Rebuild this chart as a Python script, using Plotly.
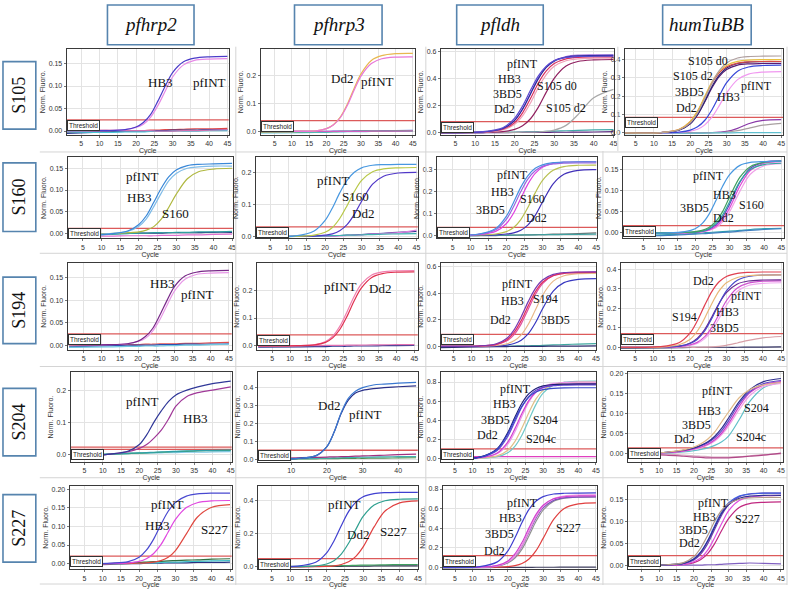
import plotly.graph_objects as go

W, H = 793, 589

# ---------------- data ----------------
CYCLES = [1, 12, 17, 20, 22, 24, 26, 28, 30, 33, 36, 40, 45]
ROW_LABELS = ["S105", "S160", "S194", "S204", "S227"]
COL_LABELS = ["pfhrp2", "pfhrp3", "pfldh", "humTuBB"]

S105_PFHRP2 = {
    "neg A": [-0.003, -0.001, 0.000, 0.001, 0.001, 0.002, 0.002, 0.003, 0.003, 0.004, 0.005, 0.005, 0.006],
    "neg B": [-0.005, -0.002, -0.001, 0.000, 0.000, 0.001, 0.001, 0.001, 0.002, 0.002, 0.002, 0.003, 0.003],
    "neg C": [-0.002, -0.003, -0.002, -0.002, -0.002, -0.001, -0.001, -0.001, 0.000, 0.000, 0.000, 0.001, 0.001],
    "neg D": [0.001, 0.002, 0.001, 0.001, 0.001, 0.001, 0.000, 0.000, 0.000, 0.001, 0.001, 0.002, 0.003],
    "pfINT": [0.001, 0.001, 0.003, 0.008, 0.015, 0.031, 0.057, 0.089, 0.120, 0.147, 0.157, 0.160, 0.161],
    "HB3": [0.001, 0.001, 0.003, 0.009, 0.019, 0.037, 0.067, 0.100, 0.130, 0.154, 0.162, 0.165, 0.166],
}
S105_PFHRP3 = {
    "neg A": [0.000, 0.001, 0.001, 0.001, 0.002, 0.002, 0.002, 0.003, 0.003, 0.003, 0.004, 0.004, 0.005],
    "neg B": [-0.004, -0.003, -0.002, -0.002, -0.001, -0.001, 0.000, 0.000, 0.000, 0.001, 0.001, 0.001, 0.002],
    "neg C": [-0.002, -0.001, 0.000, 0.000, 0.000, 0.001, 0.001, 0.001, 0.002, 0.002, 0.002, 0.003, 0.003],
    "neg D": [0.002, 0.002, 0.001, 0.001, 0.001, 0.001, 0.001, 0.001, 0.001, 0.002, 0.002, 0.002, 0.003],
    "Dd2": [0.000, 0.001, 0.003, 0.011, 0.025, 0.052, 0.097, 0.155, 0.207, 0.255, 0.272, 0.279, 0.280],
    "pfINT": [0.000, 0.001, 0.003, 0.011, 0.024, 0.050, 0.093, 0.148, 0.199, 0.244, 0.261, 0.267, 0.268],
}
S105_PFLDH = {
    "neg A": [0.000, 0.000, 0.001, 0.002, 0.003, 0.004, 0.005, 0.007, 0.009, 0.012, 0.015, 0.018, 0.020],
    "neg B": [-0.005, -0.003, -0.002, -0.001, 0.000, 0.000, 0.000, 0.000, 0.001, 0.001, 0.002, 0.003, 0.005],
    "S105 d2": [0.000, 0.000, 0.000, 0.000, 0.001, 0.001, 0.003, 0.007, 0.017, 0.052, 0.131, 0.257, 0.319],
    "S105 d0": [0.000, 0.001, 0.006, 0.022, 0.049, 0.101, 0.187, 0.298, 0.400, 0.491, 0.525, 0.537, 0.540],
    "Dd2": [0.000, 0.002, 0.019, 0.060, 0.122, 0.218, 0.332, 0.428, 0.490, 0.531, 0.545, 0.549, 0.550],
    "3BD5": [0.000, 0.003, 0.023, 0.073, 0.145, 0.251, 0.366, 0.455, 0.510, 0.545, 0.556, 0.559, 0.560],
    "HB3": [0.000, 0.003, 0.029, 0.090, 0.173, 0.288, 0.402, 0.485, 0.532, 0.562, 0.572, 0.574, 0.575],
    "pfINT": [0.000, 0.003, 0.029, 0.089, 0.172, 0.285, 0.398, 0.481, 0.528, 0.557, 0.567, 0.569, 0.570],
    "pfINT rep": [0.000, 0.005, 0.034, 0.106, 0.196, 0.312, 0.419, 0.491, 0.531, 0.555, 0.562, 0.564, 0.565],
}
S105_HUMTUBB = {
    "low 1": [0.000, 0.000, 0.000, 0.000, 0.000, 0.001, 0.002, 0.004, 0.008, 0.025, 0.050, 0.068, 0.072],
    "low 2": [0.000, 0.000, 0.000, 0.000, 0.000, 0.000, 0.001, 0.002, 0.004, 0.012, 0.025, 0.042, 0.052],
    "low 3": [-0.004, -0.003, -0.002, -0.002, -0.001, -0.001, 0.000, 0.000, 0.000, 0.001, 0.001, 0.002, 0.002],
    "pfINT": [0.000, 0.000, 0.003, 0.009, 0.020, 0.044, 0.087, 0.150, 0.219, 0.291, 0.321, 0.332, 0.335],
    "HB3": [0.000, 0.001, 0.004, 0.015, 0.033, 0.069, 0.128, 0.204, 0.274, 0.337, 0.360, 0.368, 0.370],
    "Dd2": [0.000, 0.002, 0.016, 0.050, 0.098, 0.170, 0.248, 0.309, 0.346, 0.370, 0.377, 0.379, 0.380],
    "Dd2 rep": [0.000, 0.002, 0.016, 0.051, 0.101, 0.175, 0.255, 0.317, 0.355, 0.379, 0.387, 0.389, 0.390],
    "3BD5": [0.000, 0.002, 0.020, 0.061, 0.117, 0.195, 0.273, 0.329, 0.361, 0.381, 0.388, 0.390, 0.390],
    "S105 d2": [0.000, 0.002, 0.020, 0.063, 0.120, 0.200, 0.280, 0.337, 0.370, 0.391, 0.398, 0.400, 0.400],
    "S105 d0": [0.000, 0.002, 0.017, 0.055, 0.109, 0.188, 0.274, 0.341, 0.382, 0.409, 0.417, 0.419, 0.420],
}

S160_PFHRP2 = {
    "neg pink": [-0.006, -0.006, -0.005, -0.005, -0.005, -0.005, -0.004, -0.004, -0.004, -0.003, -0.003, -0.002, -0.001],
    "neg navy": [-0.002, 0.000, 0.001, 0.001, 0.001, 0.001, 0.001, 0.002, 0.002, 0.002, 0.002, 0.003, 0.003],
    "neg teal": [-0.004, -0.002, 0.000, 0.001, 0.001, 0.002, 0.002, 0.002, 0.003, 0.003, 0.004, 0.004, 0.005],
    "S160": [-0.003, 0.000, 0.002, 0.004, 0.008, 0.016, 0.033, 0.060, 0.090, 0.126, 0.142, 0.148, 0.150],
    "HB3": [-0.004, 0.000, 0.005, 0.017, 0.034, 0.062, 0.093, 0.121, 0.138, 0.150, 0.153, 0.155, 0.155],
    "pfINT": [-0.005, -0.001, 0.006, 0.021, 0.041, 0.072, 0.104, 0.130, 0.146, 0.156, 0.159, 0.160, 0.161],
}
S160_PFHRP3 = {
    "neg navy": [0.000, 0.000, 0.001, 0.002, 0.002, 0.003, 0.004, 0.005, 0.006, 0.008, 0.010, 0.013, 0.016],
    "neg pink": [0.000, 0.000, 0.001, 0.001, 0.002, 0.002, 0.003, 0.004, 0.005, 0.007, 0.009, 0.012, 0.020],
    "neg teal": [0.000, 0.001, 0.001, 0.002, 0.003, 0.003, 0.004, 0.004, 0.005, 0.006, 0.007, 0.008, 0.009],
    "Dd2": [0.000, 0.000, 0.001, 0.004, 0.008, 0.018, 0.037, 0.069, 0.110, 0.163, 0.188, 0.198, 0.200],
    "S160": [0.000, 0.000, 0.004, 0.013, 0.028, 0.056, 0.096, 0.140, 0.175, 0.202, 0.211, 0.214, 0.215],
    "pfINT": [0.000, 0.002, 0.017, 0.050, 0.089, 0.136, 0.175, 0.200, 0.214, 0.222, 0.224, 0.225, 0.225],
}
S160_PFLDH = {
    "neg grey": [-0.005, -0.003, -0.002, -0.001, 0.000, 0.000, 0.001, 0.002, 0.002, 0.004, 0.005, 0.007, 0.010],
    "neg teal": [-0.003, -0.002, -0.001, 0.000, 0.000, 0.001, 0.001, 0.001, 0.002, 0.002, 0.003, 0.003, 0.004],
    "Dd2": [0.000, 0.000, 0.001, 0.005, 0.010, 0.022, 0.047, 0.090, 0.150, 0.234, 0.278, 0.296, 0.299],
    "S160": [0.000, 0.001, 0.005, 0.016, 0.035, 0.071, 0.127, 0.193, 0.249, 0.296, 0.313, 0.319, 0.320],
    "HB3": [0.000, 0.002, 0.017, 0.053, 0.101, 0.168, 0.234, 0.282, 0.310, 0.328, 0.333, 0.335, 0.335],
    "3BD5": [0.000, 0.003, 0.024, 0.073, 0.131, 0.199, 0.257, 0.294, 0.314, 0.325, 0.329, 0.330, 0.330],
    "pfINT": [0.000, 0.004, 0.030, 0.087, 0.150, 0.219, 0.272, 0.305, 0.321, 0.331, 0.334, 0.335, 0.335],
}
S160_HUMTUBB = {
    "neg teal": [-0.006, -0.004, -0.002, -0.001, 0.000, 0.001, 0.002, 0.003, 0.004, 0.006, 0.008, 0.010, 0.011],
    "neg blue": [-0.008, -0.006, -0.004, -0.003, -0.002, -0.001, 0.000, 0.001, 0.002, 0.004, 0.006, 0.008, 0.010],
    "pink": [0.000, 0.000, 0.000, 0.001, 0.002, 0.006, 0.012, 0.026, 0.050, 0.099, 0.139, 0.159, 0.164],
    "S160": [0.000, 0.000, 0.000, 0.001, 0.003, 0.007, 0.015, 0.032, 0.059, 0.111, 0.148, 0.165, 0.169],
    "Dd2": [0.000, 0.000, 0.001, 0.002, 0.004, 0.009, 0.019, 0.038, 0.068, 0.120, 0.153, 0.168, 0.171],
    "3BD5": [0.000, 0.000, 0.001, 0.002, 0.004, 0.010, 0.022, 0.043, 0.074, 0.122, 0.150, 0.162, 0.165],
    "HB3": [0.000, 0.000, 0.001, 0.003, 0.006, 0.013, 0.027, 0.051, 0.085, 0.132, 0.157, 0.167, 0.170],
    "pfINT": [0.000, 0.000, 0.003, 0.010, 0.022, 0.044, 0.076, 0.111, 0.138, 0.160, 0.167, 0.169, 0.170],
}

S194_PFHRP2 = {
    "neg red": [-0.002, 0.000, 0.001, 0.001, 0.002, 0.002, 0.003, 0.003, 0.003, 0.004, 0.004, 0.005, 0.006],
    "neg blue": [-0.004, -0.001, 0.000, 0.000, 0.000, 0.000, 0.001, 0.001, 0.001, 0.002, 0.002, 0.002, 0.003],
    "neg cyan": [-0.005, -0.004, -0.003, -0.003, -0.002, -0.002, -0.002, -0.001, -0.001, 0.000, 0.000, 0.001, 0.002],
    "pfINT": [0.001, 0.001, 0.003, 0.008, 0.015, 0.031, 0.057, 0.089, 0.120, 0.147, 0.157, 0.160, 0.161],
    "HB3": [0.001, 0.001, 0.003, 0.009, 0.019, 0.037, 0.067, 0.100, 0.130, 0.154, 0.162, 0.165, 0.166],
}
S194_PFHRP3 = {
    "neg navy": [-0.004, -0.003, -0.002, -0.002, -0.001, -0.001, -0.001, 0.000, 0.000, 0.000, 0.001, 0.001, 0.002],
    "neg pink": [0.000, 0.001, 0.001, 0.002, 0.002, 0.002, 0.003, 0.003, 0.003, 0.004, 0.004, 0.005, 0.005],
    "pfINT": [0.000, 0.001, 0.005, 0.016, 0.035, 0.070, 0.121, 0.176, 0.220, 0.254, 0.265, 0.269, 0.270],
    "Dd2": [0.000, 0.001, 0.004, 0.013, 0.029, 0.059, 0.105, 0.160, 0.206, 0.245, 0.259, 0.264, 0.265],
}
S194_PFLDH = {
    "neg teal": [0.000, 0.000, 0.001, 0.001, 0.002, 0.003, 0.004, 0.005, 0.007, 0.010, 0.013, 0.017, 0.020],
    "neg navy": [-0.010, -0.005, -0.003, -0.002, -0.001, 0.000, 0.000, 0.000, 0.000, 0.001, 0.001, 0.002, 0.003],
    "3BD5": [0.000, 0.001, 0.003, 0.009, 0.021, 0.046, 0.095, 0.177, 0.282, 0.415, 0.479, 0.504, 0.509],
    "S194": [0.000, 0.001, 0.006, 0.019, 0.041, 0.086, 0.166, 0.275, 0.384, 0.490, 0.531, 0.547, 0.549],
    "Dd2": [0.000, 0.002, 0.012, 0.041, 0.088, 0.169, 0.280, 0.391, 0.472, 0.532, 0.552, 0.558, 0.560],
    "HB3": [0.000, 0.002, 0.015, 0.050, 0.104, 0.193, 0.306, 0.411, 0.482, 0.532, 0.548, 0.554, 0.555],
    "pfINT": [0.000, 0.002, 0.019, 0.061, 0.124, 0.222, 0.338, 0.436, 0.499, 0.541, 0.554, 0.559, 0.560],
}
S194_HUMTUBB = {
    "neg navy": [-0.005, -0.003, -0.002, -0.001, 0.000, 0.000, 0.000, 0.000, 0.000, 0.000, 0.001, 0.001, 0.002],
    "low": [0.000, 0.000, 0.000, 0.000, 0.000, 0.001, 0.002, 0.005, 0.010, 0.022, 0.035, 0.048, 0.055],
    "pfINT": [0.000, 0.000, 0.003, 0.009, 0.020, 0.043, 0.085, 0.148, 0.215, 0.287, 0.316, 0.327, 0.330],
    "magenta": [0.000, 0.000, 0.003, 0.012, 0.025, 0.053, 0.102, 0.170, 0.238, 0.303, 0.328, 0.338, 0.340],
    "HB3": [0.000, 0.001, 0.006, 0.021, 0.045, 0.089, 0.155, 0.225, 0.280, 0.324, 0.339, 0.344, 0.345],
    "3BD5": [0.000, 0.001, 0.006, 0.019, 0.040, 0.082, 0.147, 0.223, 0.288, 0.343, 0.362, 0.369, 0.370],
    "S194": [0.000, 0.001, 0.013, 0.040, 0.082, 0.147, 0.223, 0.288, 0.330, 0.357, 0.366, 0.369, 0.370],
    "Dd2": [0.000, 0.003, 0.023, 0.072, 0.134, 0.213, 0.285, 0.335, 0.362, 0.378, 0.383, 0.385, 0.385],
}

S204_PFHRP2 = {
    "neg lightblue": [-0.003, 0.000, 0.002, 0.003, 0.003, 0.004, 0.004, 0.005, 0.005, 0.006, 0.006, 0.007, 0.008],
    "neg green": [-0.004, 0.000, 0.002, 0.003, 0.004, 0.005, 0.006, 0.007, 0.008, 0.009, 0.010, 0.011, 0.012],
    "neg teal": [-0.005, 0.000, 0.003, 0.004, 0.005, 0.006, 0.007, 0.008, 0.009, 0.010, 0.011, 0.012, 0.013],
    "HB3": [-0.012, 0.000, 0.008, 0.018, 0.030, 0.050, 0.075, 0.110, 0.150, 0.180, 0.192, 0.200, 0.210],
    "pfINT": [-0.012, 0.000, 0.010, 0.030, 0.060, 0.100, 0.135, 0.165, 0.185, 0.200, 0.210, 0.220, 0.228],
}
S204_PFHRP3 = {
    "neg green": [-0.002, 0.001, 0.002, 0.003, 0.003, 0.004, 0.004, 0.005, 0.005, 0.006, 0.006, 0.007, 0.008],
    "neg teal": [0.000, 0.003, 0.005, 0.006, 0.007, 0.008, 0.009, 0.010, 0.011, 0.012, 0.013, 0.014, 0.015],
    "neg magenta": [0.005, 0.008, 0.010, 0.012, 0.013, 0.014, 0.015, 0.017, 0.018, 0.020, 0.022, 0.025, 0.028],
    "pfINT": [0.000, 0.004, 0.020, 0.070, 0.150, 0.255, 0.330, 0.370, 0.385, 0.395, 0.400, 0.405, 0.410],
    "Dd2": [0.000, 0.004, 0.020, 0.070, 0.150, 0.260, 0.340, 0.380, 0.400, 0.415, 0.420, 0.425, 0.430],
}
S204_PFLDH = {
    "neg magenta": [0.020, 0.020, 0.020, 0.020, 0.020, 0.020, 0.020, 0.020, 0.020, 0.020, 0.020, 0.020, 0.020],
    "S204c": [0.000, 0.002, 0.018, 0.060, 0.127, 0.244, 0.405, 0.566, 0.683, 0.770, 0.798, 0.808, 0.810],
    "S204": [0.000, 0.003, 0.027, 0.087, 0.177, 0.318, 0.482, 0.623, 0.713, 0.773, 0.792, 0.798, 0.800],
    "pink": [0.000, 0.006, 0.049, 0.150, 0.278, 0.442, 0.593, 0.695, 0.751, 0.786, 0.796, 0.799, 0.800],
    "Dd2": [0.000, 0.008, 0.058, 0.172, 0.310, 0.470, 0.608, 0.695, 0.741, 0.768, 0.777, 0.779, 0.780],
    "3BD5": [0.000, 0.012, 0.084, 0.232, 0.385, 0.538, 0.649, 0.713, 0.744, 0.762, 0.768, 0.770, 0.770],
    "HB3": [0.000, 0.014, 0.102, 0.271, 0.431, 0.578, 0.678, 0.732, 0.759, 0.774, 0.778, 0.780, 0.780],
    "pfINT": [0.000, 0.013, 0.097, 0.257, 0.408, 0.548, 0.643, 0.695, 0.720, 0.734, 0.739, 0.740, 0.740],
}
S204_HUMTUBB = {
    "low pink": [0.002, 0.000, -0.003, -0.005, -0.006, -0.007, -0.008, -0.008, -0.008, -0.007, -0.005, -0.002, 0.000],
    "low magenta": [0.000, -0.003, -0.006, -0.008, -0.009, -0.010, -0.010, -0.010, -0.010, -0.008, -0.006, -0.003, 0.002],
    "S204c": [0.000, 0.002, 0.005, 0.008, 0.011, 0.015, 0.021, 0.030, 0.045, 0.085, 0.130, 0.165, 0.178],
    "S204": [0.000, 0.003, 0.007, 0.011, 0.015, 0.022, 0.032, 0.048, 0.070, 0.110, 0.145, 0.168, 0.176],
    "Dd2": [0.000, 0.003, 0.007, 0.012, 0.017, 0.024, 0.035, 0.052, 0.076, 0.118, 0.152, 0.172, 0.180],
    "3BD5": [0.000, 0.004, 0.009, 0.014, 0.020, 0.028, 0.040, 0.058, 0.083, 0.125, 0.155, 0.175, 0.183],
    "HB3": [0.000, 0.004, 0.009, 0.015, 0.021, 0.030, 0.044, 0.064, 0.090, 0.130, 0.160, 0.180, 0.188],
    "pfINT": [0.000, 0.004, 0.010, 0.017, 0.025, 0.037, 0.055, 0.080, 0.105, 0.140, 0.160, 0.172, 0.178],
}

S227_PFHRP2 = {
    "neg navy": [-0.005, -0.002, 0.000, 0.000, 0.001, 0.001, 0.001, 0.002, 0.002, 0.002, 0.003, 0.003, 0.004],
    "neg teal": [-0.004, -0.001, 0.000, 0.001, 0.002, 0.002, 0.003, 0.004, 0.004, 0.005, 0.006, 0.007, 0.008],
    "neg green": [-0.003, 0.000, 0.002, 0.003, 0.004, 0.005, 0.006, 0.007, 0.008, 0.009, 0.010, 0.012, 0.013],
    "S227": [-0.003, 0.000, 0.000, 0.001, 0.002, 0.004, 0.008, 0.017, 0.035, 0.080, 0.125, 0.152, 0.159],
    "HB3": [-0.003, 0.000, 0.002, 0.006, 0.013, 0.027, 0.051, 0.085, 0.119, 0.151, 0.164, 0.169, 0.170],
    "pfINT": [-0.003, 0.001, 0.005, 0.017, 0.036, 0.066, 0.105, 0.141, 0.165, 0.182, 0.188, 0.190, 0.190],
}
S227_PFHRP3 = {
    "neg dark": [0.000, 0.001, 0.002, 0.002, 0.003, 0.003, 0.004, 0.004, 0.004, 0.005, 0.005, 0.006, 0.006],
    "neg green": [0.000, 0.002, 0.004, 0.005, 0.006, 0.007, 0.008, 0.009, 0.010, 0.011, 0.012, 0.013, 0.014],
    "S227": [0.000, 0.000, 0.001, 0.002, 0.006, 0.014, 0.030, 0.063, 0.120, 0.241, 0.337, 0.386, 0.398],
    "Dd2": [0.000, 0.001, 0.005, 0.017, 0.037, 0.077, 0.142, 0.226, 0.304, 0.373, 0.399, 0.408, 0.410],
    "pfINT": [0.000, 0.004, 0.027, 0.084, 0.156, 0.248, 0.333, 0.391, 0.423, 0.442, 0.448, 0.450, 0.450],
}
S227_PFLDH = {
    "neg dark": [-0.005, -0.002, -0.001, 0.000, 0.000, 0.000, 0.000, 0.001, 0.001, 0.001, 0.002, 0.002, 0.003],
    "S227": [0.000, 0.000, 0.003, 0.008, 0.018, 0.040, 0.086, 0.171, 0.296, 0.489, 0.601, 0.648, 0.659],
    "Dd2": [0.000, 0.001, 0.013, 0.044, 0.094, 0.186, 0.323, 0.470, 0.585, 0.676, 0.707, 0.718, 0.720],
    "purple": [0.000, 0.002, 0.016, 0.053, 0.113, 0.217, 0.360, 0.503, 0.607, 0.684, 0.709, 0.718, 0.720],
    "3BD5": [0.000, 0.002, 0.016, 0.055, 0.116, 0.223, 0.370, 0.517, 0.624, 0.703, 0.729, 0.738, 0.740],
    "HB3": [0.000, 0.003, 0.020, 0.066, 0.137, 0.253, 0.403, 0.541, 0.634, 0.700, 0.721, 0.729, 0.730],
    "pfINT": [0.000, 0.008, 0.056, 0.168, 0.302, 0.458, 0.592, 0.677, 0.722, 0.749, 0.757, 0.759, 0.760],
}
S227_HUMTUBB = {
    "low purple": [0.000, 0.000, 0.000, 0.000, 0.000, 0.001, 0.001, 0.002, 0.003, 0.004, 0.005, 0.004, 0.003],
    "S227": [0.000, 0.000, 0.002, 0.006, 0.013, 0.027, 0.050, 0.080, 0.107, 0.132, 0.141, 0.144, 0.145],
    "magenta": [0.000, 0.000, 0.002, 0.008, 0.017, 0.035, 0.064, 0.096, 0.125, 0.148, 0.156, 0.159, 0.160],
    "Dd2": [0.000, 0.000, 0.004, 0.012, 0.026, 0.050, 0.083, 0.115, 0.139, 0.157, 0.163, 0.165, 0.165],
    "3BD5": [0.000, 0.001, 0.004, 0.015, 0.031, 0.057, 0.091, 0.122, 0.143, 0.158, 0.163, 0.165, 0.165],
    "HB3": [0.000, 0.001, 0.004, 0.014, 0.030, 0.056, 0.088, 0.119, 0.139, 0.153, 0.158, 0.160, 0.160],
    "pfINT": [0.000, 0.001, 0.006, 0.020, 0.040, 0.069, 0.101, 0.126, 0.141, 0.151, 0.154, 0.155, 0.155],
}

PANELS = [
    [S105_PFHRP2, S105_PFHRP3, S105_PFLDH, S105_HUMTUBB],
    [S160_PFHRP2, S160_PFHRP3, S160_PFLDH, S160_HUMTUBB],
    [S194_PFHRP2, S194_PFHRP3, S194_PFLDH, S194_HUMTUBB],
    [S204_PFHRP2, S204_PFHRP3, S204_PFLDH, S204_HUMTUBB],
    [S227_PFHRP2, S227_PFHRP3, S227_PFLDH, S227_HUMTUBB],
]

THRESHOLDS = [
    [[0.025], [0.04], [0.08], [0.085]],
    [[0.012], [0.03], [0.035], [0.017]],
    [[0.025], [0.04], [0.09], [0.07]],
    [[0.015, 0.022], [0.05], [0.10], [0.015]],
    [[0.02], [0.05], [0.12], [0.022]],
]

Y_TICKS = [
    [[0, 0.05, 0.10, 0.15], [0, 0.1, 0.2], [0, 0.2, 0.4, 0.6], [0, 0.1, 0.2, 0.3, 0.4]],
    [[0, 0.05, 0.10, 0.15], [0, 0.1, 0.2], [0, 0.1, 0.2, 0.3], [0, 0.05, 0.10, 0.15]],
    [[0, 0.05, 0.10, 0.15], [0, 0.1, 0.2], [0, 0.2, 0.4, 0.6], [0, 0.1, 0.2, 0.3, 0.4]],
    [[0, 0.1, 0.2], [0, 0.1, 0.2, 0.3, 0.4], [0, 0.2, 0.4, 0.6, 0.8], [0, 0.05, 0.10, 0.15, 0.20]],
    [[0, 0.05, 0.10, 0.15, 0.20], [0, 0.2, 0.4], [0, 0.2, 0.4, 0.6, 0.8], [0, 0.05, 0.10, 0.15]],
]
X_TICKS = [5, 10, 15, 20, 25, 30, 35, 40, 45]
X_TICKS_WIDE = [10, 20, 30, 40]

# ---------------- styles / layout ----------------
COLORS = [
    [["#e04848", "#283890", "#48c8d8", "#d070b0", "#e68ae6", "#4a3cc8"],
     ["#4a6ad0", "#50c0d8", "#60b060", "#d060c0", "#e8b850", "#e878d8"],
     ["#40a8a8", "#5a2a80", "#a8a8a8", "#902060", "#f0a0b8", "#d83060", "#a070e0", "#2a2a9a", "#5a4ad0"],
     ["#8a3aa8", "#a8a0a0", "#60c0d0", "#f098f0", "#3848d8", "#5a1a70", "#282878", "#d84848", "#e8c040", "#b0a0a0"]],
    [["#e070d0", "#283080", "#30a0a0", "#b0b840", "#80bce8", "#3a88d8"],
     ["#303090", "#e080e0", "#40b0b0", "#5038c8", "#b8c848", "#4898e0"],
     ["#707070", "#40a0a0", "#4030b8", "#b8c050", "#e040e0", "#9868e0", "#4890e0"],
     ["#30a0b0", "#4080c0", "#f0a0e8", "#e048d8", "#6040c8", "#30a8a0", "#40a060", "#4898e0"]],
    [["#e05050", "#3050b0", "#70c8e0", "#e898e8", "#782888"],
     ["#283890", "#e070b0", "#f080b0", "#e03050"],
     ["#40a8a0", "#303070", "#3838c0", "#e8b888", "#e050a0", "#e03060", "#7838b0"],
     ["#303060", "#d8a0a8", "#f0a8f0", "#d050d0", "#6a2890", "#4848c8", "#e8b878", "#e04050"]],
    [["#80c8e8", "#40a070", "#30a0a8", "#a03898", "#303898"],
     ["#509050", "#40b0b0", "#a03080", "#2a3088", "#3a78d0"],
     ["#e040c0", "#70c8c8", "#e0c088", "#f098e8", "#d040d0", "#6048d0", "#202078", "#3848c8"],
     ["#d8a8c0", "#b04888", "#60c0c8", "#f0a0e8", "#d040c8", "#6048c8", "#303090", "#e0b888"]],
    [["#283080", "#40c0c8", "#307040", "#e04840", "#e048e0", "#4848d0"],
     ["#303050", "#40a060", "#e04040", "#30a090", "#4040d0"],
     ["#404060", "#e04040", "#909090", "#8050c0", "#f090e0", "#d040d0", "#4040d0"],
     ["#8060c0", "#c02880", "#e050e0", "#7040b0", "#4060e0", "#303090", "#b09888"]],
]

# plot-area boxes in pixels: (left, right, top, bottom)
ROW_TB = [(47, 134), (156, 238), (263, 350), (373, 463), (487, 571)]
COL_LR = [
    [(67, 230), (262, 417), (443, 617), (628, 787)],
    [(68, 234), (257, 420), (439, 600), (626, 788)],
    [(68, 233), (258, 420), (443, 599), (624, 787)],
    [(71, 233), (259, 420), (443, 599), (631, 787)],
    [(70, 233), (259, 420), (445, 600), (631, 787)],
]
X_RANGE = [
    [(1.0, 45.4), (0.97, 45.6), (1.3, 45.1), (2.0, 45.5)],
    [(0.9, 45.2), (1.0, 45.4), (0.6, 45.2), (-1.0, 45.8)],
    [(0.6, 45.8), (0.6, 46.0), (1.4, 45.0), (1.1, 45.5)],
    [(1.2, 45.3), (0.6, 45.5), (1.0, 45.0), (1.0, 45.6)],
    [(0.9, 45.5), (1.1, 45.0), (1.5, 45.3), (1.0, 45.6)],
]
Y_RANGE = [
    [(-0.009, 0.183), (-0.012, 0.297), (-0.02, 0.62), (-0.012, 0.46)],
    [(-0.011, 0.176), (-0.006, 0.248), (-0.015, 0.357), (-0.013, 0.18)],
    [(-0.01, 0.182), (-0.013, 0.296), (-0.025, 0.625), (-0.012, 0.43)],
    [(-0.024, 0.255), (-0.015, 0.485), (-0.035, 0.90), (-0.02, 0.203)],
    [(-0.015, 0.21), (-0.014, 0.49), (-0.018, 0.834), (-0.009, 0.182)],
]
Y_DEC = [[2, 1, 1, 1], [2, 1, 1, 2], [2, 1, 1, 1], [1, 1, 1, 2], [2, 1, 1, 2]]

LABEL_POS = {
    (0, 0): [("HB3", 26.8, 0.107), ("pfINT", 40, 0.107)],
    (0, 1): [("Dd2", 24.4, 0.19), ("pfINT", 34.9, 0.179)],
    (0, 2): [("pfINT", 22, 0.51), ("HB3", 18.6, 0.397), ("3BD5", 18.2, 0.284), ("Dd2", 17.3, 0.17),
             ("S105 d0", 30.8, 0.34), ("S105 d2", 32.9, 0.18)],
    (0, 3): [("S105 d0", 24.9, 0.391), ("S105 d2", 20.8, 0.31), ("3BD5", 19.9, 0.226), ("Dd2", 19, 0.137),
             ("HB3", 30.4, 0.194), ("pfINT", 38.2, 0.256)],
    (1, 0): [("pfINT", 21, 0.13), ("HB3", 20.1, 0.083), ("S160", 29.9, 0.045)],
    (1, 1): [("pfINT", 22.2, 0.176), ("S160", 28.2, 0.124), ("Dd2", 30.4, 0.073)],
    (1, 2): [("pfINT", 21.6, 0.274), ("HB3", 18.9, 0.198), ("S160", 27.2, 0.167), ("3BD5", 15.6, 0.114),
             ("Dd2", 28.5, 0.076)],
    (1, 3): [("pfINT", 23.8, 0.135), ("HB3", 28.6, 0.089), ("3BD5", 19.9, 0.058), ("Dd2", 28.1, 0.036),
             ("S160", 36.3, 0.065)],
    (2, 0): [("HB3", 26.7, 0.137), ("pfINT", 36.3, 0.113)],
    (2, 1): [("pfINT", 24.2, 0.212), ("Dd2", 35.3, 0.206)],
    (2, 2): [("pfINT", 22.9, 0.468), ("HB3", 21.5, 0.338), ("S194", 30.8, 0.358), ("Dd2", 18.2, 0.2),
             ("3BD5", 33.6, 0.2)],
    (2, 3): [("Dd2", 23.6, 0.339), ("pfINT", 35.4, 0.263), ("HB3", 30.4, 0.18), ("S194", 18.6, 0.153),
             ("3BD5", 29.5, 0.099)],
    (3, 0): [("pfINT", 20.9, 0.165), ("HB3", 35.4, 0.11)],
    (3, 1): [("Dd2", 20.5, 0.30), ("pfINT", 30.7, 0.25)],
    (3, 2): [("pfINT", 22.2, 0.73), ("HB3", 19, 0.567), ("3BD5", 16.6, 0.4), ("Dd2", 14.2, 0.25),
             ("S204", 30.7, 0.4), ("S204c", 29.3, 0.2)],
    (3, 3): [("pfINT", 26.9, 0.158), ("HB3", 24.5, 0.108), ("S204", 37.9, 0.114), ("3BD5", 20.7, 0.0725),
             ("S204c", 36.4, 0.042), ("Dd2", 17.4, 0.0375)],
    (4, 0): [("pfINT", 27.8, 0.159), ("HB3", 25.1, 0.102), ("S227", 40.6, 0.091)],
    (4, 1): [("pfINT", 25, 0.379), ("Dd2", 28.6, 0.194), ("S227", 38.2, 0.215)],
    (4, 2): [("pfINT", 24.1, 0.654), ("HB3", 20.8, 0.5), ("3BD5", 17.5, 0.341), ("Dd2", 16.1, 0.17),
             ("S227", 37.3, 0.4)],
    (4, 3): [("pfINT", 25.5, 0.142), ("HB3", 23.1, 0.110), ("S227", 35.5, 0.105), ("3BD5", 19.8, 0.08),
             ("Dd2", 18.8, 0.05)],
}

ROW_BOX = [(60, 128), (162, 231), (277, 344), (389, 457), (496, 564)]
COL_BOX = [(108, 195), (296, 384), (459, 546), (666, 755)]

SERIF = "Liberation Serif, Times New Roman, serif"
SANS = "Liberation Sans, Arial, sans-serif"


def px_x(v):
    return v / W


def px_y(v):
    return 1 - v / H


fig = go.Figure()
layout = dict(width=W, height=H, margin=dict(l=0, r=0, t=0, b=0),
              paper_bgcolor="white", plot_bgcolor="white", showlegend=False)
annotations = []
shapes = []

idx = 0
for r in range(5):
    for c in range(4):
        idx += 1
        xa = "x" if idx == 1 else f"x{idx}"
        ya = "y" if idx == 1 else f"y{idx}"
        xkey = "xaxis" if idx == 1 else f"xaxis{idx}"
        ykey = "yaxis" if idx == 1 else f"yaxis{idx}"
        l, rr = COL_LR[r][c]
        t, b = ROW_TB[r]
        xt = X_TICKS_WIDE if (r == 3 and c == 1) else X_TICKS
        dec = Y_DEC[r][c]
        yt = Y_TICKS[r][c]
        axis_common = dict(showgrid=True, gridcolor="#e3e3e3", gridwidth=1, zeroline=False,
                           showline=True, linecolor="#3a3a3a", linewidth=1, mirror=True,
                           ticks="outside", ticklen=2, tickcolor="#777",
                           tickfont=dict(family=SANS, size=7, color="#333"))
        layout[xkey] = dict(domain=[px_x(l), px_x(rr)], range=list(X_RANGE[r][c]), anchor=ya,
                            tickvals=xt, ticktext=[str(v) for v in xt],
                            title=dict(text="Cycle", font=dict(family=SANS, size=7, color="#333"), standoff=1),
                            **axis_common)
        layout[ykey] = dict(domain=[px_y(b), px_y(t)], range=list(Y_RANGE[r][c]), anchor=xa,
                            tickvals=yt, ticktext=[f"{v:.{dec}f}" for v in yt],
                            title=dict(text="Norm. Fluoro.", font=dict(family=SANS, size=7, color="#333"), standoff=2),
                            **axis_common)
        x0, x1 = X_RANGE[r][c]
        for tv in THRESHOLDS[r][c]:
            fig.add_trace(go.Scatter(x=[x0, x1], y=[tv, tv], mode="lines", xaxis=xa, yaxis=ya,
                                     line=dict(color="#dc5a5a", width=1.3), hoverinfo="skip"))
        data = PANELS[r][c]
        cols = COLORS[r][c]
        for k, (name, vals) in enumerate(data.items()):
            fig.add_trace(go.Scatter(x=CYCLES, y=vals, mode="lines", name=name, xaxis=xa, yaxis=ya,
                                     line=dict(color=cols[k], width=1.2, shape="spline", smoothing=0.9)))
        annotations.append(dict(xref=f"{xa} domain", yref=ya, x=0.0, y=min(THRESHOLDS[r][c]),
                                xanchor="left", yanchor="top", showarrow=False, text="Threshold",
                                font=dict(family=SANS, size=6.5, color="#222"),
                                bgcolor="white", bordercolor="#333", borderwidth=1, borderpad=1))
        fsize = 13 if c < 2 else 12
        for txt, lx, ly in LABEL_POS[(r, c)]:
            annotations.append(dict(xref=xa, yref=ya, x=lx, y=ly, text=txt, showarrow=False,
                                    xanchor="center", yanchor="middle",
                                    font=dict(family=SERIF, size=fsize, color="#111")))

for xv, y0, y1 in [(237, 45, 587), (428, 45, 587), (621, 45, 150), (606, 150, 587), (791, 45, 587)]:
    shapes.append(dict(type="line", xref="paper", yref="paper", x0=px_x(xv), x1=px_x(xv),
                       y0=px_y(y0), y1=px_y(y1), line=dict(color="#d4d4d4", width=1)))
for yv in [151, 253, 367, 479, 586]:
    shapes.append(dict(type="line", xref="paper", yref="paper", x0=px_x(40), x1=px_x(791),
                       y0=px_y(yv), y1=px_y(yv), line=dict(color="#d4d4d4", width=1)))

for (x0, x1), lab in zip(COL_BOX, COL_LABELS):
    shapes.append(dict(type="rect", xref="paper", yref="paper", x0=px_x(x0), x1=px_x(x1),
                       y0=px_y(43), y1=px_y(3), line=dict(color="#5684ae", width=1.6), fillcolor="white"))
    annotations.append(dict(xref="paper", yref="paper", x=px_x((x0 + x1) / 2), y=px_y(23), text=f"<i>{lab}</i>",
                            showarrow=False, xanchor="center", yanchor="middle",
                            font=dict(family=SERIF, size=19, color="#111")))
for (y0, y1), lab in zip(ROW_BOX, ROW_LABELS):
    shapes.append(dict(type="rect", xref="paper", yref="paper", x0=px_x(3), x1=px_x(36),
                       y0=px_y(y1), y1=px_y(y0), line=dict(color="#5684ae", width=1.6), fillcolor="white"))
    annotations.append(dict(xref="paper", yref="paper", x=px_x(19.5), y=px_y((y0 + y1) / 2), text=lab,
                            showarrow=False, textangle=-90, xanchor="center", yanchor="middle",
                            font=dict(family=SERIF, size=18, color="#111")))

layout["annotations"] = annotations
layout["shapes"] = shapes
fig.update_layout(**layout)
fig.write_html("out.html", config={"displayModeBar": False},
               post_script="document.body.style.margin='0';document.body.style.overflow='hidden';")
